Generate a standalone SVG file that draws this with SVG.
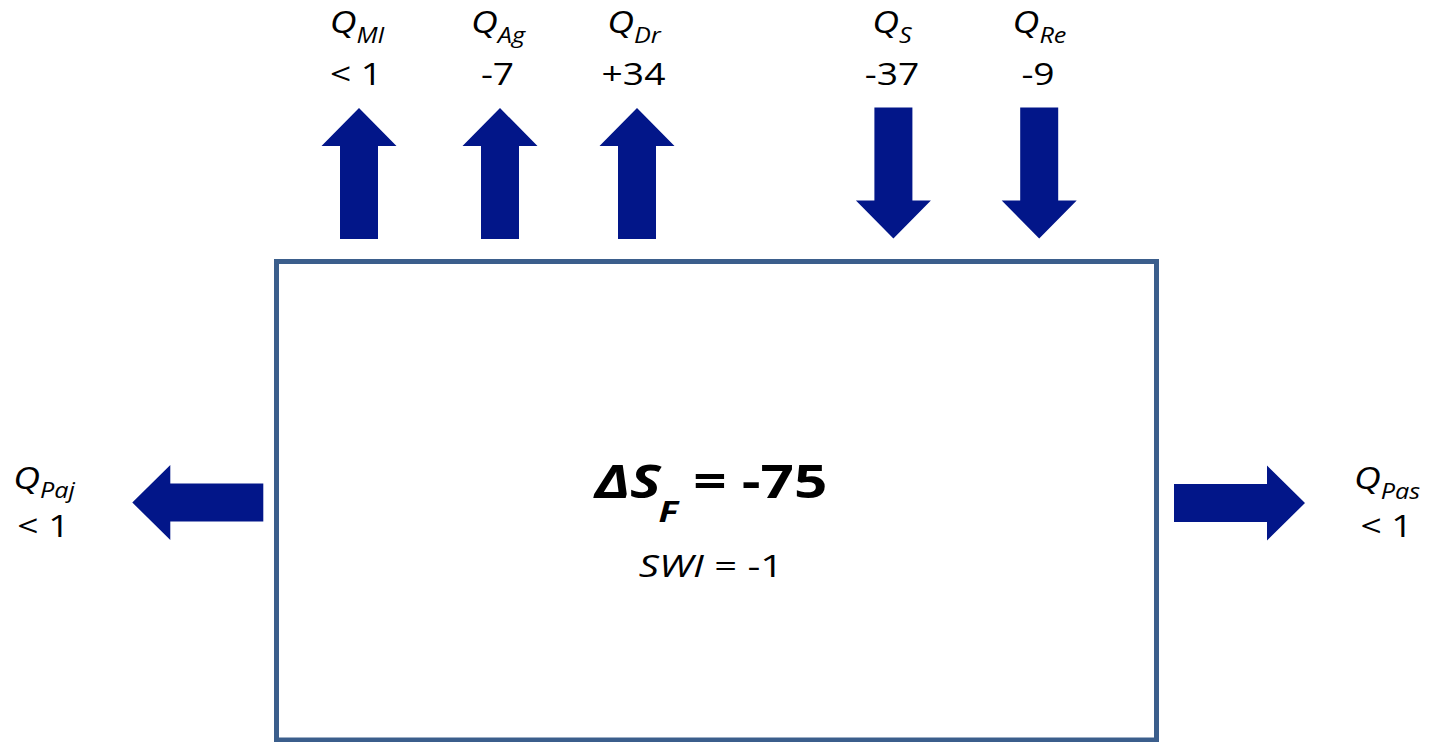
<svg xmlns="http://www.w3.org/2000/svg" width="1429" height="742" viewBox="0 0 1429 742">
<style>
.lbl{font-family:"Open Sans","Noto Sans",sans-serif;font-size:31px;fill:#000;text-anchor:middle}
.it{font-style:italic}
.sub{font-size:21px;font-style:italic}
.big{font-family:"Open Sans","Noto Sans",sans-serif;font-size:46px;font-weight:bold;fill:#000;text-anchor:middle}
.swi{font-family:"Open Sans","Noto Sans",sans-serif;font-size:31px;fill:#000;text-anchor:middle}
.arrow{fill:#021689}
.box{fill:#fff;stroke:#3B5E8C;stroke-width:5}
</style>
<defs>
<polygon id="arr" points="0,0 37.5,38 19,38 19,131 -19,131 -19,38 -37.5,38"/>
</defs>
<rect width="1429" height="742" fill="#fff"/>
<g id="box">
<rect class="box" x="276.5" y="261.5" width="880" height="478.5"/>
<text class="big" transform="translate(711 498) scale(1.27 1)"><tspan font-style="italic">ΔS</tspan><tspan font-style="italic" style="font-size:29px" dx="-2" dy="24">F</tspan><tspan dy="-24"> = -75</tspan></text>
<text class="swi" transform="translate(711 576.7) scale(1.29 1)"><tspan font-style="italic">SWI</tspan> = -1</text>
</g>
<g id="connectors" class="arrow">
<use href="#arr" transform="translate(359 108)"/>
<use href="#arr" transform="translate(500 108)"/>
<use href="#arr" transform="translate(637 108)"/>
<use href="#arr" transform="translate(893.4 238.5) rotate(180)"/>
<use href="#arr" transform="translate(1039.2 238.5) rotate(180)"/>
<use href="#arr" transform="translate(132.3 502.5) rotate(-90)"/>
<use href="#arr" transform="translate(1305 503) rotate(90)"/>
</g>
<g id="q-mi">
<text class="lbl" transform="translate(357 33) scale(1.2 1)"><tspan class="it">Q</tspan><tspan class="sub" dy="10">MI</tspan></text>
<text class="lbl" transform="translate(356 85) scale(1.2 1)">&lt; 1</text>
</g>
<g id="q-ag">
<text class="lbl" transform="translate(498 33) scale(1.2 1)"><tspan class="it">Q</tspan><tspan class="sub" dy="10">Ag</tspan></text>
<text class="lbl" transform="translate(497.5 85) scale(1.2 1)">-7</text>
</g>
<g id="q-dr">
<text class="lbl" transform="translate(634 33) scale(1.2 1)"><tspan class="it">Q</tspan><tspan class="sub" dy="10">Dr</tspan></text>
<text class="lbl" transform="translate(633.5 85) scale(1.2 1)">+34</text>
</g>
<g id="q-s">
<text class="lbl" transform="translate(892 33) scale(1.2 1)"><tspan class="it">Q</tspan><tspan class="sub" dy="10">S</tspan></text>
<text class="lbl" transform="translate(892 85) scale(1.2 1)">-37</text>
</g>
<g id="q-re">
<text class="lbl" transform="translate(1039.5 33) scale(1.2 1)"><tspan class="it">Q</tspan><tspan class="sub" dy="10">Re</tspan></text>
<text class="lbl" transform="translate(1038 85) scale(1.2 1)">-9</text>
</g>
<g id="q-paj">
<text class="lbl" transform="translate(44 488.5) scale(1.2 1)"><tspan class="it">Q</tspan><tspan class="sub" dy="9">Paj</tspan></text>
<text class="lbl" transform="translate(43.3 537) scale(1.2 1)">&lt; 1</text>
</g>
<g id="q-pas">
<text class="lbl" transform="translate(1387 489) scale(1.2 1)"><tspan class="it">Q</tspan><tspan class="sub" dy="10">Pas</tspan></text>
<text class="lbl" transform="translate(1386.5 537) scale(1.2 1)">&lt; 1</text>
</g>
</svg>
